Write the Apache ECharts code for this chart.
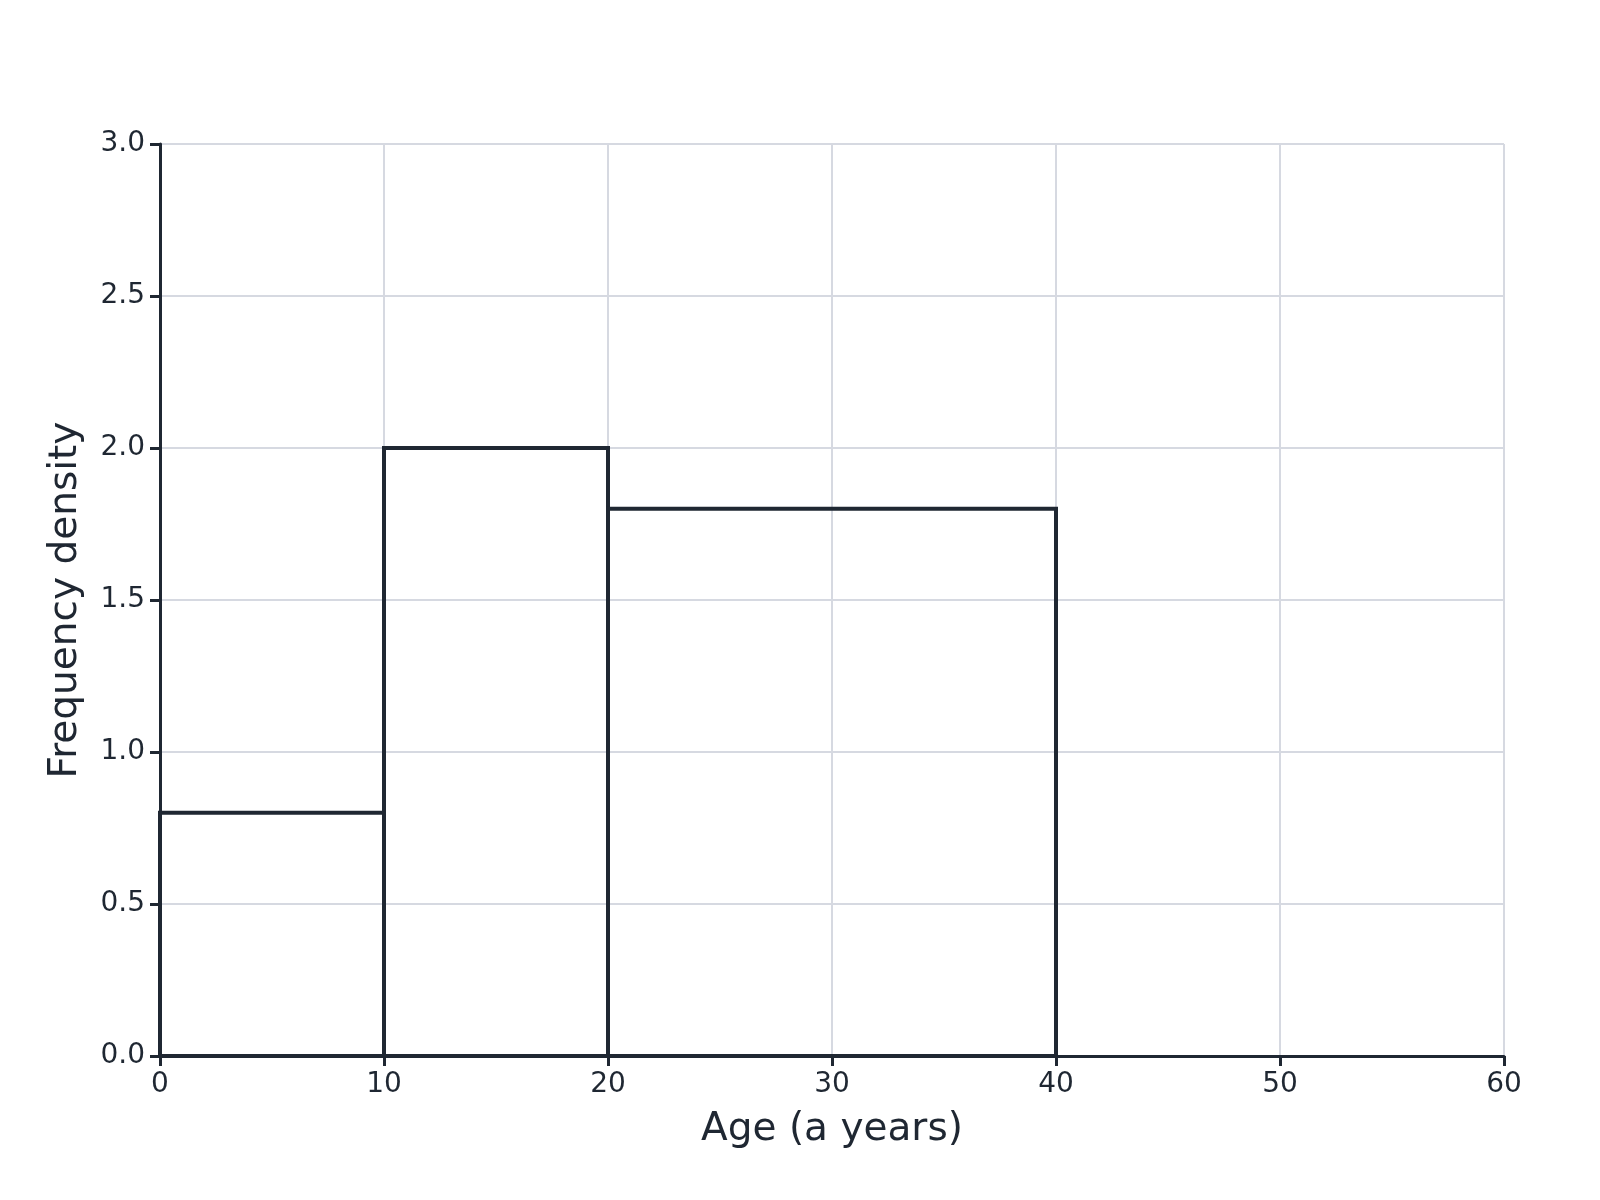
<!DOCTYPE html>
<html>
<head>
<meta charset="utf-8">
<title>Frequency density histogram</title>
<script src="https://cdn.jsdelivr.net/npm/echarts@6/dist/echarts.min.js"></script>
<style>
  html, body { margin: 0; padding: 0; background: #fff; }
  #chart { width: 1600px; height: 1200px; }
</style>
</head>
<body>
<div id="chart"></div>
<script>
// class intervals (years) and their frequency densities
var binStart = [0, 10, 20];
var binEnd = [10, 20, 40];
var density = [0.8, 2.0, 1.8];

var xTicks = [0, 10, 20, 30, 40, 50, 60];
var yTicks = [0, 0.5, 1, 1.5, 2, 2.5, 3];

var ink = '#1f2732';
var grid = '#d6d9e1';

var bins = binStart.map(function (s, i) {
  return [s, binEnd[i], density[i]];
});

var chart = echarts.init(document.getElementById('chart'), null, { renderer: 'canvas' });

chart.setOption({
  animation: false,
  backgroundColor: '#ffffff',
  textStyle: { fontFamily: 'DejaVu Sans', color: ink },
  grid: { left: 160, right: 96, top: 144, bottom: 144 },
  xAxis: {
    type: 'value',
    min: xTicks[0],
    max: xTicks[xTicks.length - 1],
    interval: 10,
    name: 'Age (a years)',
    nameLocation: 'middle',
    nameGap: 54,
    nameTextStyle: { fontSize: 39, color: ink, fontFamily: 'DejaVu Sans' },
    axisLine: { show: true, lineStyle: { color: ink, width: 3 } },
    axisTick: { show: true, length: 10, lineStyle: { color: ink, width: 3 } },
    axisLabel: { fontSize: 28, color: ink, margin: 15, fontFamily: 'DejaVu Sans' },
    splitLine: { show: true, lineStyle: { color: grid, width: 2 } }
  },
  yAxis: {
    type: 'value',
    min: yTicks[0],
    max: yTicks[yTicks.length - 1],
    interval: 0.5,
    name: 'Frequency density',
    nameLocation: 'middle',
    nameGap: 75,
    nameTextStyle: { fontSize: 39, color: ink, fontFamily: 'DejaVu Sans' },
    axisLine: { show: true, lineStyle: { color: ink, width: 3 } },
    axisTick: { show: true, length: 10, lineStyle: { color: ink, width: 3 } },
    axisLabel: {
      fontSize: 28, color: ink, margin: 15, fontFamily: 'DejaVu Sans',
      padding: [5, 0, 0, 0],
      formatter: function (v) { return v.toFixed(1); }
    },
    splitLine: { show: true, lineStyle: { color: grid, width: 2 } }
  },
  series: [{
    type: 'custom',
    data: bins,
    encode: { x: [0, 1], y: 2 },
    renderItem: function (params, api) {
      var p0 = api.coord([api.value(0), api.value(2)]);
      var p1 = api.coord([api.value(1), 0]);
      return {
        type: 'rect',
        shape: { x: p0[0], y: p0[1], width: p1[0] - p0[0], height: p1[1] - p0[1] },
        style: { fill: 'rgba(255,255,255,0)', stroke: ink, lineWidth: 4 }
      };
    }
  }]
});
</script>
</body>
</html>
